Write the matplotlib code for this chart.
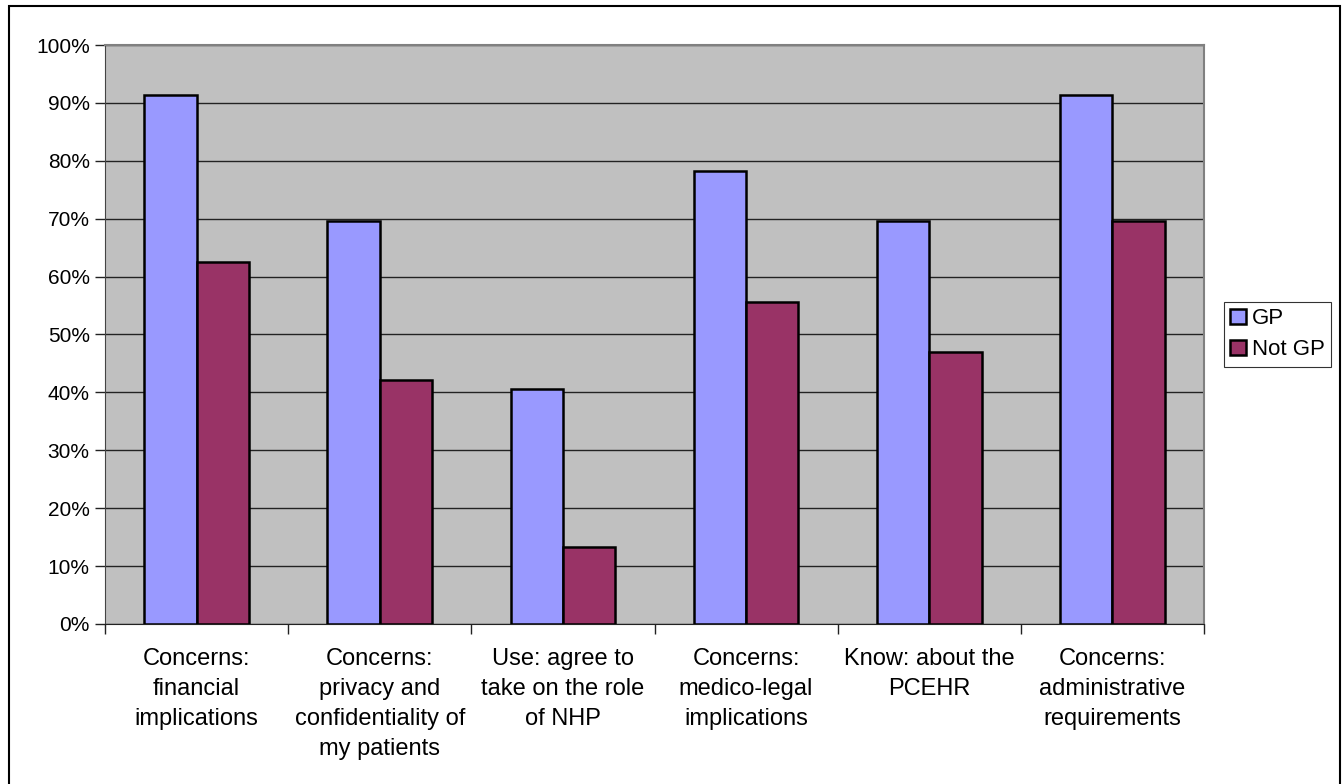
import matplotlib.pyplot as plt
import numpy as np
from matplotlib.patches import Rectangle
from matplotlib.ticker import PercentFormatter, FixedLocator

plt.rcParams['font.family'] = ['Liberation Sans', 'DejaVu Sans']

categories = ["Concerns:\nfinancial\nimplications",
              "Concerns:\nprivacy and\nconfidentiality of\nmy patients",
              "Use: agree to\ntake on the role\nof NHP",
              "Concerns:\nmedico-legal\nimplications",
              "Know: about the\nPCEHR",
              "Concerns:\nadministrative\nrequirements"]
gp = [91.3, 69.6, 40.6, 78.3, 69.6, 91.3]
not_gp = [62.5, 42.2, 13.3, 55.6, 46.9, 69.6]

fig = plt.figure(figsize=(13.43, 7.84), dpi=100)
ax = fig.add_axes([0.0782, 0.2041, 0.8183, 0.7385])
ax.set_facecolor('#c0c0c0')

x = np.arange(len(categories))
w = 1 / 3.5
ax.bar(x - w / 2, gp, w, color='#9999ff', edgecolor='black', linewidth=1.8, label='GP', zorder=3)
ax.bar(x + w / 2, not_gp, w, color='#993366', edgecolor='black', linewidth=1.8, label='Not GP', zorder=3)

ax.set_xlim(-0.5, len(categories) - 0.5)
ax.set_ylim(0, 100)
ax.set_yticks(np.arange(0, 101, 10))
ax.yaxis.set_major_formatter(PercentFormatter(decimals=0))
ax.yaxis.grid(True, color='#222222', linewidth=1)
ax.set_axisbelow(True)

# category labels centred, ticks at the group boundaries
ax.set_xticks(x)
ax.set_xticklabels(categories, fontsize=17, linespacing=1.47)
ax.tick_params(axis='x', length=0, pad=17)
ax.xaxis.set_minor_locator(FixedLocator(np.arange(-0.5, len(categories), 1)))
ax.tick_params(axis='x', which='minor', length=7, width=1, color='#222222')
ax.tick_params(axis='y', length=7, width=1, color='#222222', labelsize=15, pad=4)

for side in ['top', 'right']:
    ax.spines[side].set_color('#808080')
    ax.spines[side].set_linewidth(1.5)
ax.spines['left'].set_color('#444444')
ax.spines['bottom'].set_color('#222222')

leg = ax.legend(loc='center left', bbox_to_anchor=(1.018, 0.5), fontsize=16,
                frameon=True, fancybox=False, edgecolor='black', handlelength=0.7,
                handleheight=0.7, handletextpad=0.25, borderpad=0.3, labelspacing=0.45,
                borderaxespad=0)
leg.get_frame().set_linewidth(0.8)

# outer chart border
fig.patches.append(Rectangle((9 / 1343, -0.01), 1331 / 1343, 1 - 6 / 784 + 0.01,
                             transform=fig.transFigure, fill=False,
                             edgecolor='black', linewidth=1.5))

fig.savefig('out.png', dpi=100)
